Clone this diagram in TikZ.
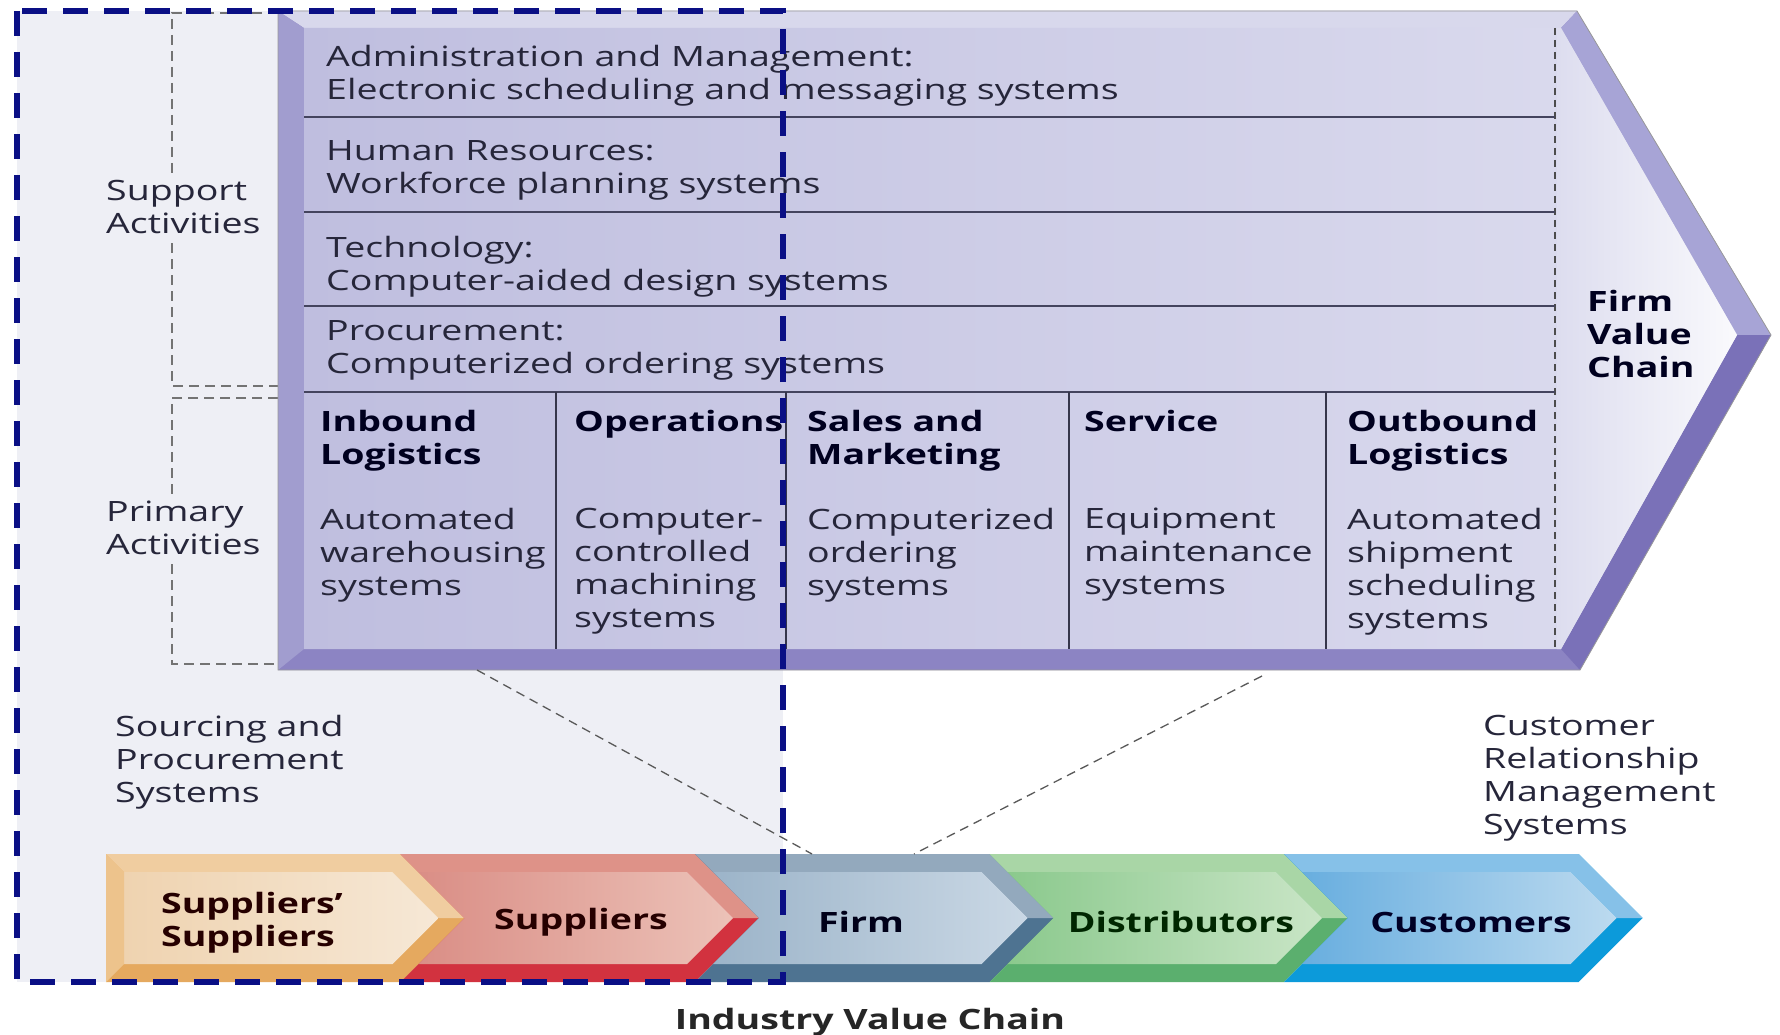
\documentclass[tikz,border=0pt]{standalone}
\usepackage{fontspec}
\setmainfont[FakeStretch=1.34]{Open Sans}
\usetikzlibrary{calc}
\definecolor{bgray}{HTML}{EEEFF5}
\definecolor{navyd}{HTML}{0A0F85}
\definecolor{txtc}{HTML}{26263A}
\definecolor{rowline}{HTML}{44445E}
\definecolor{cfaceL}{HTML}{BFBEDF}
\definecolor{cfaceR}{HTML}{DDDDEF}
\definecolor{ctop}{HTML}{D8D8EC}
\definecolor{cleft}{HTML}{A19DCF}
\definecolor{cbot}{HTML}{8C84C3}
\definecolor{cud}{HTML}{A7A4D6}
\definecolor{cld}{HTML}{7A71B8}
\definecolor{tanT}{HTML}{F0CDA0}
\definecolor{tanB}{HTML}{E5A95F}
\definecolor{tanL}{HTML}{EFD3B0}
\definecolor{tanR}{HTML}{F6E8D6}
\definecolor{tanS}{HTML}{EDC38C}
\definecolor{redT}{HTML}{DE9288}
\definecolor{redB}{HTML}{D2323F}
\definecolor{redL}{HTML}{DA8E86}
\definecolor{redR}{HTML}{ECC2B8}
\definecolor{firT}{HTML}{93A9BD}
\definecolor{firB}{HTML}{4E7391}
\definecolor{firL}{HTML}{9CB4C9}
\definecolor{firR}{HTML}{CAD8E5}
\definecolor{grnT}{HTML}{A9D6A6}
\definecolor{grnB}{HTML}{5BAF6E}
\definecolor{grnL}{HTML}{8BC98D}
\definecolor{grnR}{HTML}{C9E5C6}
\definecolor{bluT}{HTML}{86C1E8}
\definecolor{bluB}{HTML}{0C9ADA}
\definecolor{bluL}{HTML}{68AEDF}
\definecolor{bluR}{HTML}{BCDAEF}
\newcommand\mainfs{\fontsize{28}{33}\selectfont}
\newcommand\chainpc[3]{%
  \fill[#2B] ({#1},854) -- ({#1+294.5},854) -- ({#1+358.5},918) -- ({#1+294.5},982) -- ({#1},982) -- ({#1+#3},918) -- cycle;
  \fill[#2T] ({#1},854) -- ({#1+294.5},854) -- ({#1+358.5},918) -- ({#1+332.5},918) -- ({#1+286.5},872) -- ({#1+18},872) -- cycle;
  \shade[left color=#2L, right color=#2R] ({#1+18},872) -- ({#1+286.5},872) -- ({#1+332.5},918) -- ({#1+286.5},964) -- ({#1+18},964) -- ({#1+18+#3*46/64},918) -- cycle;
}
\tikzset{
  txt/.style={font=\mainfs, text=txtc, inner sep=0pt, align=left, anchor=north west},
  bld/.style={font=\mainfs\bfseries, text=black!88!blue, inner sep=0pt, align=left, anchor=north west},
  side/.style={font=\mainfs, text=txtc, inner sep=5pt, align=left, anchor=north west, fill=bgray},
  clab/.style={font=\mainfs\bfseries, inner sep=0pt, align=left, anchor=center},
  graybox/.style={draw=black!55, line width=1.4pt, dash pattern=on 10pt off 6pt},
  rowln/.style={draw=rowline, line width=2pt},
  divln/.style={draw=rowline!80!black, line width=1.4pt},
  zoomln/.style={draw=black!65, line width=1.3pt, dash pattern=on 9pt off 6pt},
  frame/.style={draw=navyd, line width=6pt, dash pattern=on 25pt off 16pt}
}
\begin{document}
\begin{tikzpicture}[x=1pt, y=-1pt]
\useasboundingbox[fill=white] (0,0) rectangle (1780,1035);
% light background inside the frame
\fill[bgray] (17,11) rectangle (783,982);
% support / primary dashed boxes
\draw[graybox] (278,13) -- (172,13) -- (172,386) -- (278,386);
\draw[graybox] (278,398) -- (172,398) -- (172,664) -- (278,664);
% firm value chain chevron
\fill[cbot] (278,11) -- (1577,11) -- (1771,335) -- (1580,670) -- (278,670) -- cycle;
\fill[ctop] (278,11) -- (1577,11) -- (1561,28) -- (304,28) -- cycle;
\fill[cleft] (278,11) -- (304,28) -- (304,649) -- (278,670) -- cycle;
\fill[cud] (1577,11) -- (1771,335) -- (1737,335) -- (1561,28) -- cycle;
\fill[cld] (1737,335) -- (1771,335) -- (1580,670) -- (1561,649) -- cycle;
\shade[left color=cfaceL, right color=cfaceR] (304,28) -- (1561,28) -- (1737,335) -- (1561,649) -- (304,649) -- cycle;
\shade[left color=cfaceR, right color=white!85!cfaceR] (1557,28) -- (1561,28) -- (1737,335) -- (1561,649) -- (1557,649) -- cycle;
\draw[black!40, line width=0.8pt] (278,11) -- (1577,11) -- (1771,335) -- (1580,670) -- (278,670) -- cycle;
% rows
\draw[black!70, line width=1.2pt, dash pattern=on 7pt off 5pt] (1555,28) -- (1555,649);
\draw[rowln] (304,117) -- (1555,117);
\draw[rowln] (304,212) -- (1555,212);
\draw[rowln] (304,306) -- (1555,306);
\draw[rowln] (304,392) -- (1555,392);
\draw[divln] (556,392) -- (556,649);
\draw[divln] (786,392) -- (786,649);
\draw[divln] (1069,392) -- (1069,649);
\draw[divln] (1326,392) -- (1326,649);
% support activity texts
\node[txt] (adm) at (326,45) {Administration and Management:\\Electronic scheduling and messaging systems};
\node[txt] (hr) at (326,140) {Human Resources:\\Workforce planning systems};
\node[txt] (tech) at (326,236) {Technology:\\Computer-aided design systems};
\node[txt] (proc) at (326,320) {Procurement:\\Computerized ordering systems};
% primary activities
\node[bld] (inb) at (320,410) {Inbound\\Logistics};
\node[bld] (ops) at (574,410) {Operations};
\node[bld] (sal) at (807,410) {Sales and\\Marketing};
\node[bld] (ser) at (1084,410) {Service};
\node[bld] (outb) at (1347,410) {Outbound\\Logistics};
\node[txt] (inbd) at (320,508) {Automated\\warehousing\\systems};
\node[txt] (opsd) at (574,508) {Computer-\\controlled\\machining\\systems};
\node[txt] (sald) at (807,508) {Computerized\\ordering\\systems};
\node[txt] (serd) at (1084,508) {Equipment\\maintenance\\systems};
\node[txt] (outbd) at (1347,508) {Automated\\shipment\\scheduling\\systems};
\node[bld] (fvc) at (1587,290) {Firm\\Value\\Chain};
% side labels
\node[side] (sup) at (101,175) {Support\\Activities};
\node[side] (pri) at (101,496) {Primary\\Activities};
\node[txt] (srcp) at (115,715) {Sourcing and\\Procurement\\Systems};
\node[txt] (crm) at (1483,715) {Customer\\Relationship\\Management\\Systems};
% industry value chain
\chainpc{106}{tan}{0}
\fill[tanS] (106,854) -- (124,872) -- (124,964) -- (106,982) -- cycle;
\chainpc{400.5}{red}{64}
\chainpc{695}{fir}{64}
\chainpc{989.5}{grn}{64}
\chainpc{1284}{blu}{64}
\node[clab, text=black!85!red] (ss) at (252,923) {Suppliers'\\Suppliers};
\node[clab, text=black!85!red] (su) at (581,922) {Suppliers};
\node[clab, text=black!90!blue] (fi) at (861,922) {Firm};
\node[clab, text=black!85!green] (di) at (1181,922) {Distributors};
\node[clab, text=black!85!blue] (cu) at (1471,922) {Customers};
\node[clab, text=black!85] (ivc) at (870,1022) {Industry Value Chain};
% zoom connectors
\coordinate (cA) at (477,670);
\coordinate (fA) at (812,854);
\coordinate (cB) at (1262,676);
\coordinate (fB) at (914,854);
\draw[zoomln] (cA) -- (fA);
\draw[zoomln] (cB) -- (fB);
% blue dashed frame
\draw[frame] (17,11) rectangle (783,982);
\end{tikzpicture}
\end{document}
